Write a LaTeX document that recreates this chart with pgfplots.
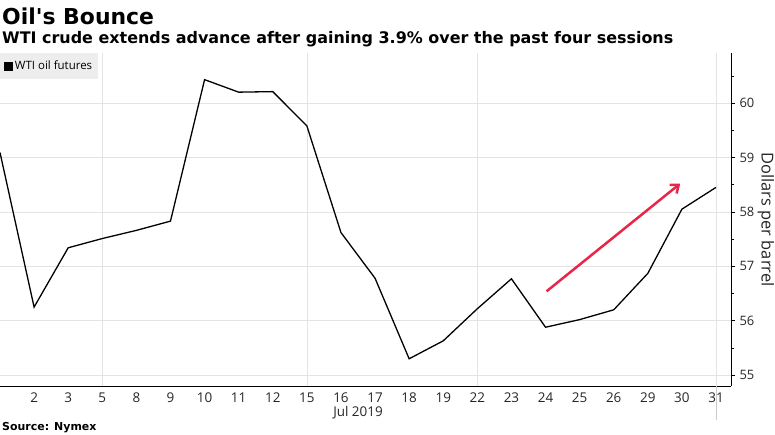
\documentclass[border=0pt]{standalone}
\usepackage{fontspec}
\setmainfont{Open Sans}
\newfontfamily\titlefont{DejaVu Sans}
\usepackage{pgfplots}
\pgfplotsset{compat=1.18}
\usetikzlibrary{arrows.meta}
\definecolor{arrowred}{HTML}{E8264A}
\begin{document}
\begin{tikzpicture}[x=1bp,y=1bp]
\useasboundingbox (0,-49) rectangle (775,386);
\begin{axis}[
  at={(0,0)}, anchor=south west,
  width=731bp, height=333bp, scale only axis,
  xmin=0, xmax=21.44, ymin=54.8, ymax=60.92,
  axis x line=bottom, axis y line=right,
  axis line style={-, black, line width=0.8bp},
  xtick={0,...,21},
  xticklabels={,2,3,5,8,9,10,11,12,15,16,17,18,19,22,23,24,25,26,29,30,31},
  xtick style={draw=none},
  ytick={55,56,57,58,59,60},
  minor ytick={55.5,56.5,57.5,58.5,59.5,60.5},
  ytick style={black, line width=0.6bp},
  major tick length=4bp, minor tick length=3bp,
  tick align=outside,
  ymajorgrids,
  grid style={gray!22, line width=0.6bp},
  extra x ticks={3,9,14,21}, extra x tick labels={},
  extra x tick style={grid=major},
  xticklabel style={font=\fontsize{13.5}{13.5}\selectfont, text=black!85, yshift=1bp},
  yticklabel style={font=\fontsize{13}{13}\selectfont, text=black!85, xshift=1bp},
  /pgf/number format/assume math mode=true,
  ylabel={Dollars per barrel},
  ylabel style={font=\fontsize{16.5}{16.5}\selectfont, text=black!85, rotate=180, at={(rel axis cs:1,0.5)}, anchor=center, yshift=35bp},
  legend style={at={(0,1)}, anchor=north west, draw=none, fill=black!7, font=\fontsize{11.5}{11.5}\selectfont, inner xsep=4bp, inner ysep=6bp},
  legend image code/.code={\fill[black] (0bp,-3.8bp) rectangle (7.5bp,3.8bp);},
]
\addplot[black, line width=1.3bp] coordinates {
(0,59.09) (1,56.25) (2,57.34) (3,57.51) (4,57.66) (5,57.83) (6,60.43) (7,60.20)
(8,60.21) (9,59.58) (10,57.62) (11,56.78) (12,55.30) (13,55.63) (14,56.22) (15,56.77)
(16,55.88) (17,56.02) (18,56.20) (19,56.87) (20,58.05) (21,58.45)};
\addlegendentry{WTI oil futures}
\draw[arrowred, line width=2.5bp, -{Straight Barb[length=7bp,width=11bp]}] (axis cs:16.03,56.54) -- (axis cs:19.95,58.52);
\coordinate (jul) at (axis cs:10.5,54.8);
\end{axis}
\draw[gray!40, line width=0.8bp] (716,0) -- (716,-34);
\node[anchor=base, font=\fontsize{13.5}{13.5}\selectfont, text=black!85] at ([yshift=-31bp]jul) {Jul 2019};
\node[anchor=base west, inner sep=0pt, font=\titlefont\bfseries\fontsize{22}{22}\selectfont] at (2,361) {Oil\textquotesingle s Bounce};
\node[anchor=base west, inner sep=0pt, font=\titlefont\bfseries\fontsize{16}{16}\selectfont] at (2,342) {WTI crude extends advance after gaining 3.9\% over the past four sessions};
\node[anchor=base west, inner sep=0pt, font=\titlefont\bfseries\fontsize{11}{11}\selectfont] at (2,-45) {Source: Nymex};
\end{tikzpicture}
\end{document}
